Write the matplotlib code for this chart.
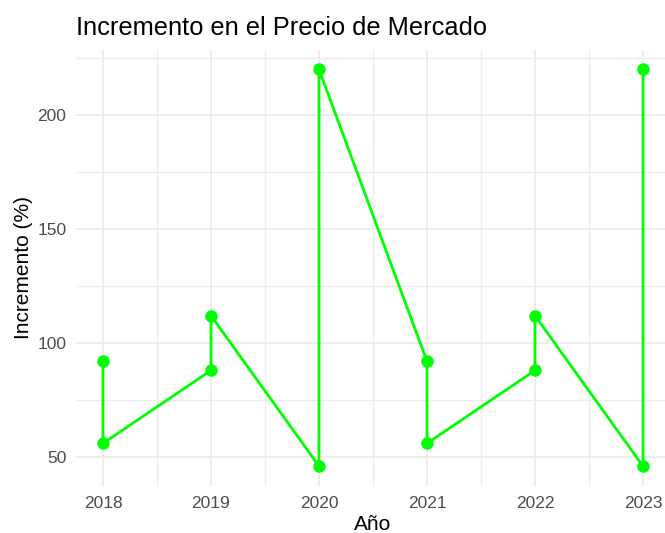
import matplotlib.pyplot as plt
import numpy as np

# data
years = [2018, 2018, 2019, 2019, 2020, 2020, 2021, 2021, 2022, 2022, 2023, 2023]
increments = [92, 56, 88, 112, 46, 220, 92, 56, 88, 112, 46, 220]
tick_years = [2018, 2019, 2020, 2021, 2022, 2023]
y_ticks = [50, 100, 150, 200]

plt.rcParams['font.family'] = ['Liberation Sans', 'DejaVu Sans']

fig = plt.figure(figsize=(6.65, 5.33), dpi=100)
W, H = 665, 533
ax = fig.add_axes([76 / W, (H - 486) / H, (670 - 76) / W, (486 - 49.6) / H])

ax.plot(years, increments, color='#00FF00', linewidth=2.0, marker='o',
        markersize=9, markeredgewidth=0, zorder=3)

ax.set_xlim(2017.75, 2023.25)
ax.set_ylim(37.3, 228.7)
ax.set_xticks(tick_years)
ax.set_yticks(y_ticks)
ax.set_xticks(np.array(tick_years[:-1]) + 0.5, minor=True)
ax.set_yticks([75, 125, 175, 225], minor=True)

ax.grid(which='major', color='#EDEDED', linewidth=1.4)
ax.grid(which='minor', color='#EDEDED', linewidth=1.0)
ax.set_axisbelow(True)
for s in ax.spines.values():
    s.set_visible(False)
ax.tick_params(which='both', length=0, labelsize=12.5, labelcolor='#4D4D4D')
ax.tick_params(axis='x', pad=7)
ax.tick_params(axis='y', pad=7)

ax.set_xlabel('Año', fontsize=15, color='black', labelpad=3)
ax.set_ylabel('Incremento (%)', fontsize=15, color='black', labelpad=3)
fig.text(76 / W, 1 - 28 / H, 'Incremento en el Precio de Mercado', fontsize=18.3,
         va='center', ha='left')

fig.savefig('out.png', dpi=100)
